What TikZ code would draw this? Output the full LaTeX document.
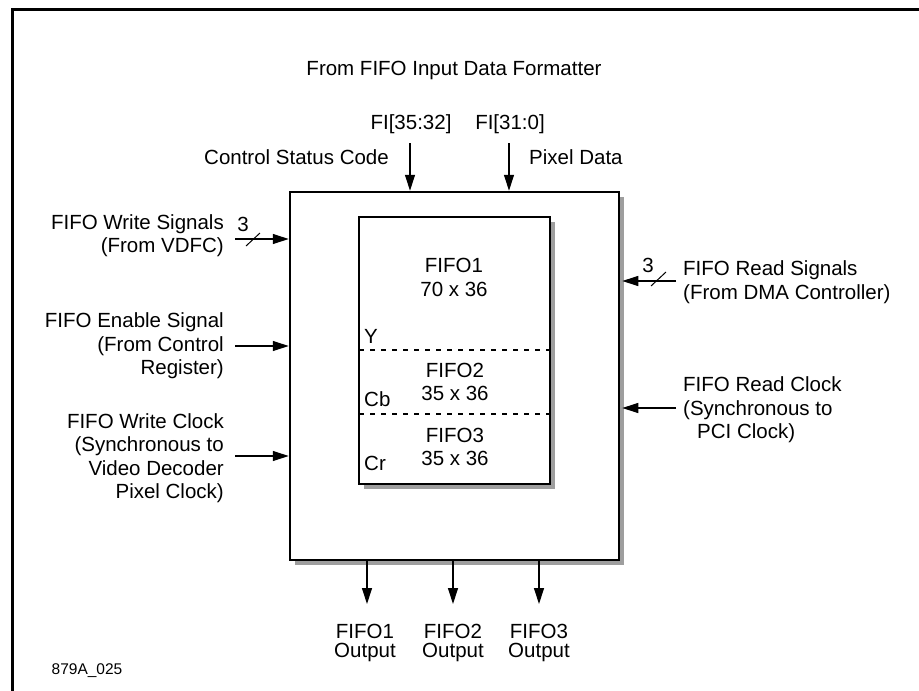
\documentclass[tikz,border=0pt]{standalone}
\usepackage{fontspec}
\setmainfont{Liberation Sans}
\usetikzlibrary{arrows.meta,shadows}
\begin{document}
\begin{tikzpicture}[x=1pt,y=-1pt,
  lbl/.style={inner sep=0pt, font=\fontsize{20.5}{23.5}\selectfont},
  olbl/.style={inner sep=0pt, align=center, font=\fontsize{20.5}{19}\selectfont},
  sig/.style={line width=1.2pt, -{Triangle[length=16pt,width=10pt]}},
  busmark/.style={line width=1pt},
  box/.style={draw, line width=2.5pt, fill=white, inner sep=0pt,
    drop shadow={shadow xshift=5pt, shadow yshift=-5pt, fill=black!38, opacity=1}},
  ibox/.style={draw, line width=2pt, fill=white, inner sep=0pt,
    drop shadow={shadow xshift=5pt, shadow yshift=-5pt, fill=black!38, opacity=1}},
  sep/.style={line width=2pt, dash pattern=on 5pt off 6pt},
]
\useasboundingbox (0,0) rectangle (919,691);
\draw[line width=3pt] (12,700) -- (12,9) -- (930,9);

% main blocks
\node[box, minimum width=329pt, minimum height=368pt] (main) at (454.5,376) {};
\node[ibox, minimum width=191pt, minimum height=267pt] (inner) at (454.5,350.5) {};
\draw[sep] (359,350) -- (550,350);
\draw[sep] (359,414) -- (550,414);

% inner texts
\node[lbl, align=center] (f1) at (454,277.5) {FIFO1\\70 x 36};
\node[lbl, align=center] (f2) at (455,382) {FIFO2\\35 x 36};
\node[lbl, align=center] (f3) at (455,447) {FIFO3\\35 x 36};
\node[lbl, anchor=west] (ly) at (364,336) {Y};
\node[lbl, anchor=west] (lcb) at (364,399) {Cb};
\node[lbl, anchor=west] (lcr) at (364,463) {Cr};

% top
\node[lbl] (title) at (454,70) {From FIFO Input Data Formatter};
\node[lbl] (fihi) at (411,124) {FI[35:32]};
\node[lbl] (filo) at (510,124) {FI[31:0]};
\node[lbl, anchor=east] (csc) at (389,157) {Control Status Code};
\node[lbl, anchor=west] (pix) at (529,157) {Pixel Data};
\coordinate (t1) at (410,143);
\coordinate (t2) at (509,143);
\draw[sig] (t1) -- (t1 |- main.north);
\draw[sig] (t2) -- (t2 |- main.north);

% left
\node[lbl, anchor=east, align=right] (wsig) at (224,235.5) {FIFO Write Signals\\(From VDFC)};
\node[lbl, anchor=east, align=right] (esig) at (224,346) {FIFO Enable Signal\\(From Control\\Register)};
\node[lbl, anchor=east, align=right] (wclk) at (224,458) {FIFO Write Clock\\(Synchronous to\\Video Decoder\\Pixel Clock)};
\coordinate (l1) at (235,239);
\coordinate (l2) at (235,346);
\coordinate (l3) at (235,456);
\draw[sig] (l1) -- (l1 -| main.west);
\draw[sig] (l2) -- (l2 -| main.west);
\draw[sig] (l3) -- (l3 -| main.west);
\draw[busmark] (246,246) -- (260,233);
\node[lbl] (n3l) at (243,224) {3};

% right
\node[lbl, anchor=west, align=left] (rsig) at (683,282) {FIFO Read Signals\\(From DMA Controller)};
\node[lbl, anchor=west, align=left] (rclk) at (683,410) {FIFO Read Clock\\(Synchronous to\\\hspace*{14pt}PCI Clock)};
\coordinate (r1) at (676,281);
\coordinate (r2) at (676,408);
\draw[sig] (r1) -- ([xshift=2pt]r1 -| main.east);
\draw[sig] (r2) -- ([xshift=2pt]r2 -| main.east);
\draw[busmark] (651,286) -- (666,272);
\node[lbl] (n3r) at (648,265) {3};

% bottom
\coordinate (b1) at (367,560);
\coordinate (b2) at (453,560);
\coordinate (b3) at (539,560);
\coordinate (e1) at (367,604);
\coordinate (e2) at (453,604);
\coordinate (e3) at (539,604);
\draw[sig] (b1 |- main.south) -- (e1);
\draw[sig] (b2 |- main.south) -- (e2);
\draw[sig] (b3 |- main.south) -- (e3);
\node[olbl] (o1) at (365,643) {FIFO1\\Output};
\node[olbl] (o2) at (453,643) {FIFO2\\Output};
\node[olbl] (o3) at (539,643) {FIFO3\\Output};

\node[inner sep=0pt, font=\fontsize{15.5}{18}\selectfont] (code) at (87,671) {879A\_025};
\end{tikzpicture}
\end{document}
